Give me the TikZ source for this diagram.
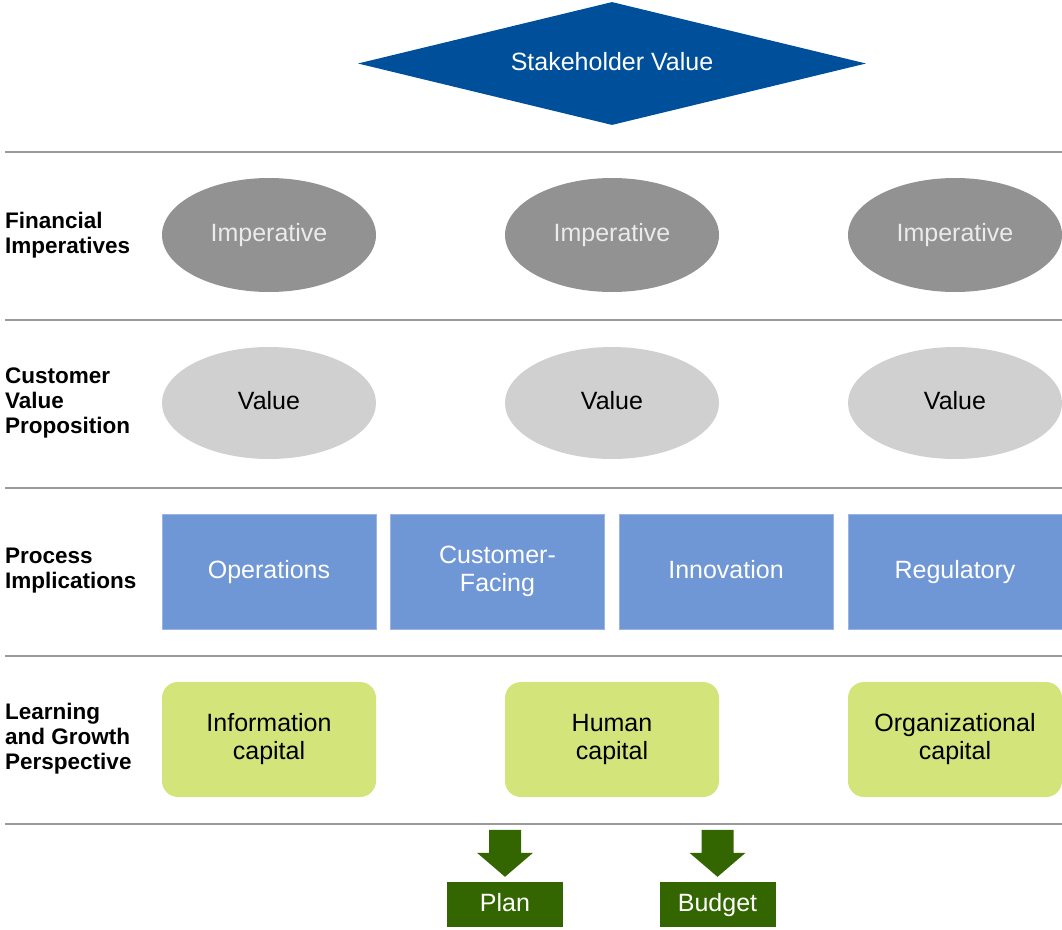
\documentclass[tikz,border=0pt]{standalone}
\usepackage{fontspec}
\setmainfont{Liberation Sans}
\usetikzlibrary{shapes.geometric}
\definecolor{stakeblue}{RGB}{0,79,154}
\definecolor{rulegray}{RGB}{155,155,155}
\definecolor{impgray}{RGB}{146,146,146}
\definecolor{valgray}{RGB}{208,208,208}
\definecolor{procblue}{RGB}{111,150,213}
\definecolor{learngreen}{RGB}{210,228,122}
\definecolor{darkgreen}{RGB}{51,102,0}
\begin{document}
\begin{tikzpicture}[x=1pt,y=-1pt,
  body/.style={font=\fontsize{25}{28}\selectfont, align=center, inner sep=0pt},
  oneline/.style={text height=18pt, text depth=5pt},
  rowlabel/.style={font=\fontsize{22.5}{25}\selectfont\bfseries, align=left, anchor=west, inner sep=0pt},
  sep/.style={draw=rulegray, line width=2pt},
  imperative/.style={body, oneline, ellipse, fill=impgray, text=white!92!black, minimum width=214pt, minimum height=114pt},
  valueell/.style={body, oneline, ellipse, fill=valgray, text=black, minimum width=214pt, minimum height=112pt},
  procbox/.style={body, rectangle, fill=procblue, draw=procblue!70!white, line width=0.8pt, text=white, minimum width=214pt, minimum height=115pt},
  learnbox/.style={body, rectangle, rounded corners=16pt, fill=learngreen, text=black, minimum width=214pt, minimum height=115pt},
  outbox/.style={body, oneline, rectangle, fill=darkgreen, text=white, minimum width=116pt, minimum height=45pt},
  downarrow/.style={fill=darkgreen}
]
\useasboundingbox (0,0) rectangle (1062,929);

% stakeholder value diamond
\node[body, oneline, diamond, fill=stakeblue, text=white, minimum width=508pt, minimum height=123pt, aspect=4.13] (stake) at (612,63.5) {Stakeholder Value};

% horizontal separators
\coordinate (s1l) at (5,152);  \coordinate (s1r) at (1062,152);
\coordinate (s2l) at (5,320);  \coordinate (s2r) at (1062,320);
\coordinate (s3l) at (5,488);  \coordinate (s3r) at (1062,488);
\coordinate (s4l) at (5,656);  \coordinate (s4r) at (1062,656);
\coordinate (s5l) at (5,824);  \coordinate (s5r) at (1062,824);
\foreach \a/\b in {s1l/s1r,s2l/s2r,s3l/s3r,s4l/s4r,s5l/s5r}
  \draw[sep] (\a) -- (\b);

% row labels
\node[rowlabel] (lfin) at (5,235) {Financial\\Imperatives};
\node[rowlabel] (lcust) at (5,403) {Customer\\Value\\Proposition};
\node[rowlabel] (lproc) at (5,571) {Process\\Implications};
\node[rowlabel] (llearn) at (5,739) {Learning\\and Growth\\Perspective};

% financial imperatives
\node[imperative] (imp1) at (269,235) {Imperative};
\node[imperative] (imp2) at (612,235) {Imperative};
\node[imperative] (imp3) at (955,235) {Imperative};

% customer value proposition
\node[valueell] (val1) at (269,403) {Value};
\node[valueell] (val2) at (612,403) {Value};
\node[valueell] (val3) at (955,403) {Value};

% process implications
\node[procbox, oneline] (ops) at (269,571.5) {Operations};
\node[procbox] (cust) at (497.5,571.5) {Customer-\\Facing};
\node[procbox, oneline] (innov) at (726,571.5) {Innovation};
\node[procbox, oneline] (reg) at (955,571.5) {Regulatory};

% learning and growth
\node[learnbox] (info) at (269,739.5) {Information\\capital};
\node[learnbox] (human) at (612,739.5) {Human\\capital};
\node[learnbox] (org) at (955,739.5) {Organizational\\capital};

% outputs
\node[outbox] (plan) at (505,904.5) {Plan};
\node[outbox] (budget) at (717.5,904.5) {Budget};

% block arrows above the outputs (shifts are in page units, positive = up)
\foreach \n in {plan,budget}{
  \fill[downarrow] ([xshift=-16pt,yshift=52pt]\n.north) -- ([xshift=16pt,yshift=52pt]\n.north)
    -- ([xshift=16pt,yshift=29pt]\n.north) -- ([xshift=28pt,yshift=29pt]\n.north)
    -- ([yshift=5pt]\n.north) -- ([xshift=-28pt,yshift=29pt]\n.north)
    -- ([xshift=-16pt,yshift=29pt]\n.north) -- cycle;
}
\end{tikzpicture}
\end{document}
